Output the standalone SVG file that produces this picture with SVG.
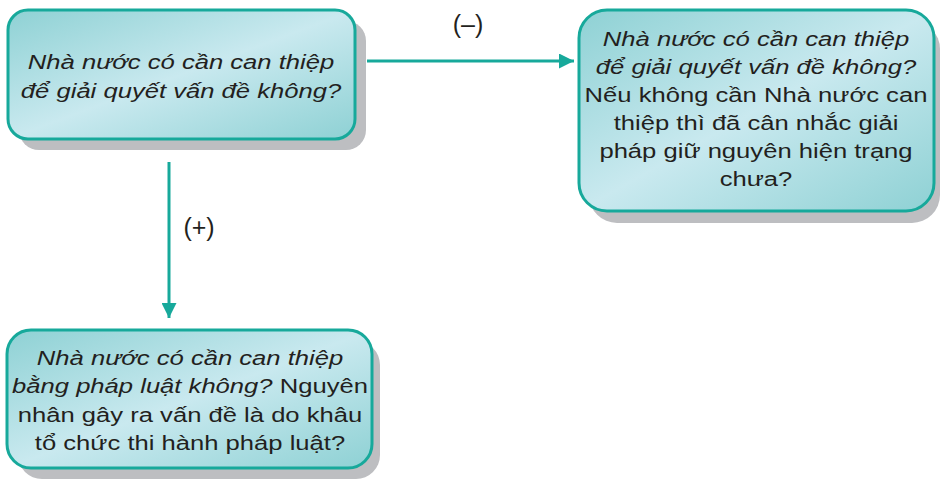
<svg xmlns="http://www.w3.org/2000/svg" width="940" height="479" viewBox="0 0 940 479">
  <defs>
    <linearGradient id="boxFill" x1="0" y1="0" x2="1" y2="1">
      <stop offset="0" stop-color="#8ed1d4"/>
      <stop offset="0.5" stop-color="#c9e9ef"/>
      <stop offset="1" stop-color="#8ed1d4"/>
    </linearGradient>
    <marker id="arrow" viewBox="0 0 10 10" refX="10" refY="5" markerWidth="5" markerHeight="5" markerUnits="strokeWidth" orient="auto">
      <path d="M0,0 L10,5 L0,10 Z" fill="#17a99b"/>
    </marker>
  </defs>
  <style>
    .shadow { fill: #bdbec1; }
    .box { fill: url(#boxFill); stroke: #17a99b; stroke-width: 3; }
    .txt { font-family: "Liberation Sans", Arial, sans-serif; font-size: 21px; fill: #231f20; text-anchor: middle; }
    .it { font-style: italic; }
    .lbl { font-family: "Liberation Sans", Arial, sans-serif; font-size: 25px; fill: #231f20; text-anchor: middle; }
    .conn { stroke: #17a99b; stroke-width: 3; fill: none; marker-end: url(#arrow); }
  </style>

  <rect width="940" height="479" fill="#ffffff"/>

  <!-- decision: state intervention needed? -->
  <g id="node-question">
    <rect class="shadow" x="19" y="21" width="347" height="129" rx="20"/>
    <rect class="box" x="8" y="10" width="347" height="129" rx="20"/>
    <g transform="translate(181 0) scale(1.22 1)">
      <text class="txt it" x="0" y="69">Nhà nước có cần can thiệp</text>
      <text class="txt it" x="0" y="98">để giải quyết vấn đề không?</text>
    </g>
  </g>

  <!-- negative branch -->
  <g id="node-no">
    <rect class="shadow" x="589" y="21" width="351" height="202" rx="28"/>
    <rect class="box" x="579" y="10" width="355" height="201" rx="28"/>
    <g transform="translate(756 0) scale(1.22 1)">
      <text class="txt it" x="0" y="46">Nhà nước có cần can thiệp</text>
      <text class="txt it" x="0" y="74">để giải quyết vấn đề không?</text>
      <text class="txt" x="0" y="102">Nếu không cần Nhà nước can</text>
      <text class="txt" x="0" y="130">thiệp thì đã cân nhắc giải</text>
      <text class="txt" x="0" y="158">pháp giữ nguyên hiện trạng</text>
      <text class="txt" x="0" y="186">chưa?</text>
    </g>
  </g>

  <!-- positive branch -->
  <g id="node-yes">
    <rect class="shadow" x="18" y="341" width="362" height="138" rx="24"/>
    <rect class="box" x="7" y="330" width="365" height="138" rx="24"/>
    <g transform="translate(190 0) scale(1.22 1)">
      <text class="txt" x="0" y="365"><tspan class="it">Nhà nước có cần can thiệp</tspan></text>
      <text class="txt" x="0" y="393"><tspan class="it">bằng pháp luật không?</tspan> Nguyên</text>
      <text class="txt" x="0" y="422">nhân gây ra vấn đề là do khâu</text>
      <text class="txt" x="0" y="450">tổ chức thi hành pháp luật?</text>
    </g>
  </g>

  <g id="connectors">
    <line class="conn" x1="367" y1="61" x2="574" y2="61"/>
    <line class="conn" x1="169" y1="162" x2="169" y2="318"/>
    <text class="lbl" x="468" y="33">(–)</text>
    <text class="lbl" x="199" y="236">(+)</text>
  </g>
</svg>
